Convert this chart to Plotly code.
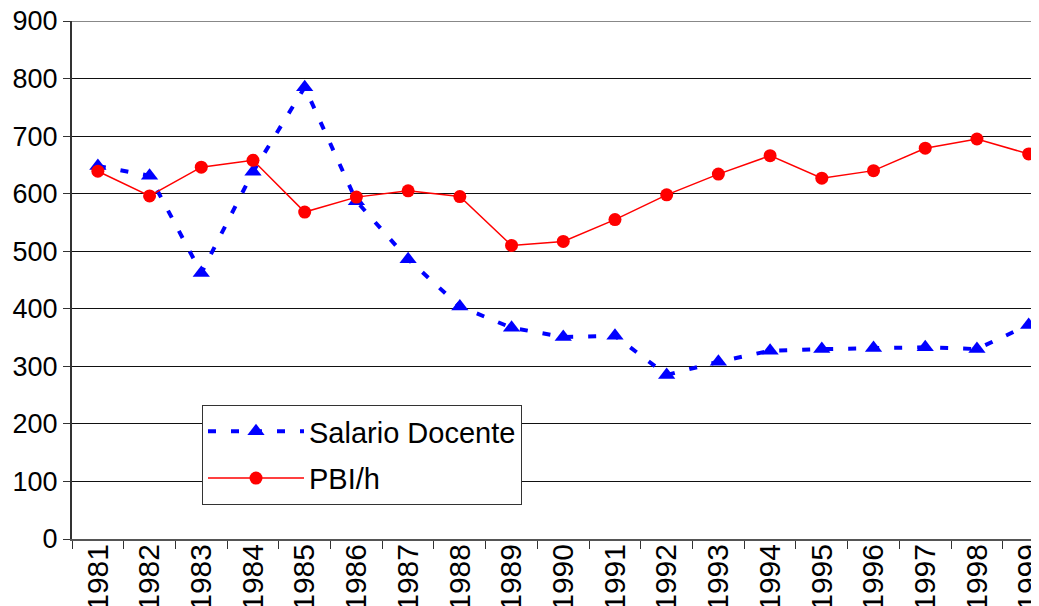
import plotly.graph_objects as go

years = [str(y) for y in range(1981, 2000)]
salario_docente = [648, 631, 462, 638, 785, 587, 486, 404, 367, 351, 353, 285, 308, 327, 330, 332, 333, 330, 372]
pbi_h = [639, 596, 646, 658, 568, 594, 605, 595, 510, 517, 555, 598, 634, 666, 627, 640, 679, 695, 669]

fig = go.Figure()
fig.add_trace(go.Scatter(
    x=years, y=salario_docente, name="Salario Docente", mode="lines+markers",
    legendgroup="a",
    line=dict(color="#0000ff", width=4, dash="8px,15px"),
    marker=dict(symbol="triangle-up", size=15, color="#0000ff"),
))
fig.add_trace(go.Scatter(
    x=years, y=pbi_h, name="PBI/h", mode="lines+markers",
    legendgroup="b",
    line=dict(color="#ff0000", width=1.5),
    marker=dict(symbol="circle", size=13, color="#ff0000"),
))

fam = "Liberation Sans, Arial, sans-serif"

# page body has an 8px margin, so margins are offset by 8px
fig.update_layout(
    width=1039, height=606,
    margin=dict(l=64, r=8, t=13, b=75),
    paper_bgcolor="white", plot_bgcolor="white",
    font=dict(family=fam, size=26, color="black"),
    showlegend=True,
    legend=dict(
        x=(202 - 72) / 967, y=(539 - 405) / 518, xanchor="left", yanchor="top",
        bgcolor="white", bordercolor="#333333", borderwidth=1,
        font=dict(family=fam, size=29, color="black"),
        itemwidth=96, tracegroupgap=6,
    ),
    xaxis=dict(
        type="category", range=[-0.5, 18.2], tickangle=-90, automargin=False,
        tickson="boundaries", ticks="outside", ticklen=8, tickcolor="#333333",
        showline=True, linecolor="#555555", linewidth=2, showgrid=False,
        tickfont=dict(family=fam, size=30, color="black"),
        ticklabelstandoff=-9, ticklabeloverflow="allow",
    ),
    yaxis=dict(
        range=[0, 900], dtick=100, ticks="outside", ticklen=7, tickcolor="#333333",
        automargin=False, ticklabeloverflow="allow",
        showline=True, linecolor="#333333", linewidth=2,
        showgrid=True, gridcolor="#111111", gridwidth=1, zeroline=False,
        tickfont=dict(family=fam, size=27, color="black"),
    ),
    shapes=[dict(type="line", xref="paper", yref="y", x0=0, x1=1, y0=900, y1=900,
                 line=dict(color="#888888", width=2), layer="below")],
)

fig.write_html("out.html")
